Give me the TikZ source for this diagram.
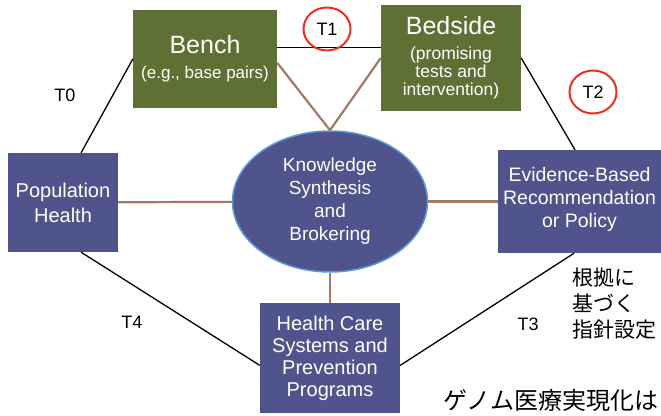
\documentclass[tikz,border=0pt]{standalone}
\usepackage{fontspec}
\setmainfont{Liberation Sans}
\newfontfamily\jpfont{Noto Sans CJK JP}
\usetikzlibrary{positioning}
\usetikzlibrary{shapes.geometric}

\definecolor{benchgreen}{HTML}{5F7035}
\definecolor{boxblue}{HTML}{4F548C}
\definecolor{rimblue}{HTML}{5B9BD5}
\definecolor{linkbrown}{HTML}{A27866}
\definecolor{markred}{HTML}{E8321E}

\begin{document}
\begin{tikzpicture}
	[x=1pt,y=-1pt,
	stage/.style={rectangle, inner sep=0pt, align=center, text=white},
	green stage/.style={stage, fill=benchgreen},
	blue stage/.style={stage, fill=boxblue},
	hub/.style={ellipse, inner sep=0pt, draw=rimblue, line width=1.5pt, fill=boxblue, text=white, align=center},
	link/.style={line width=1.3pt},
	brown link/.style={line width=2.2pt, draw=linkbrown},
	tag/.style={font=\fontsize{18}{20}\selectfont},
	ring/.style={ellipse, draw=markred, line width=2pt, minimum width=47pt, minimum height=43pt, inner sep=0pt, tag}]

\useasboundingbox (0,0) rectangle (661,415);

\node [green stage, minimum width=144pt, minimum height=98pt, font=\fontsize{17}{18}\selectfont] (bench) at (205,59)
	{{\fontsize{25}{28}\selectfont Bench}\\[7pt](e.g., base pairs)};
\node [green stage, minimum width=140pt, minimum height=106pt, font=\fontsize{17.5}{18}\selectfont] (bedside) at (451,58)
	{{\fontsize{25}{28}\selectfont Bedside}\\[7pt](promising\\tests and\\intervention)};
\node [blue stage, minimum width=110pt, minimum height=99pt, font=\fontsize{20}{25}\selectfont] (pop) at (63,202.5) {Population\\Health};
\node [hub, minimum width=195pt, minimum height=141pt, font=\fontsize{19}{23}\selectfont] (know) at (330,201.5) {Knowledge\\Synthesis\\and\\Brokering};
\node [blue stage, minimum width=163pt, minimum height=103pt, font=\fontsize{19.5}{23}\selectfont] (evid) at (579.5,201.5) {Evidence-Based\\Recommendation\\or Policy\\[-14pt]};
\node [blue stage, minimum width=140pt, minimum height=110pt, font=\fontsize{20}{22}\selectfont] (hc) at (330,358) {Health Care\\Systems and\\Prevention\\Programs};

\draw [link] (bench.west) -- (pop.70);
\draw [link] (bench.9) -- (bench.9 -| bedside.west);
\draw [link] (bedside.east) -- (evid.95);
\draw [link] (pop.-70) -- (hc.186);
\draw [link] (hc.-6) -- (evid.264);

\draw [brown link] (bench.-3) -- (know.north);
\draw [brown link] (bedside.west) -- (know.north);
\draw [brown link] (pop) -- (know);
\draw [brown link] (know) -- (evid);
\draw [brown link] (know) -- (hc);

\node [ring] (t1) at (327,29) {T1};
\node [ring] (t2) at (593,92) {T2};
\node [tag] (t0) at (65,95) {T0};
\node [tag] (t3) at (528,324) {T3};
\node [tag] (t4) at (132,322) {T4};

\node [anchor=west, align=left, inner sep=0pt, font=\jpfont\fontsize{21}{26}\selectfont] (jpnote) at (572,304) {根拠に\\基づく\\指針設定};
\node [anchor=west, inner sep=0pt, font=\jpfont\fontsize{24}{28}\selectfont] (jptitle) at (443,400) {ゲノム医療実現化は};

\end{tikzpicture}
\end{document}
